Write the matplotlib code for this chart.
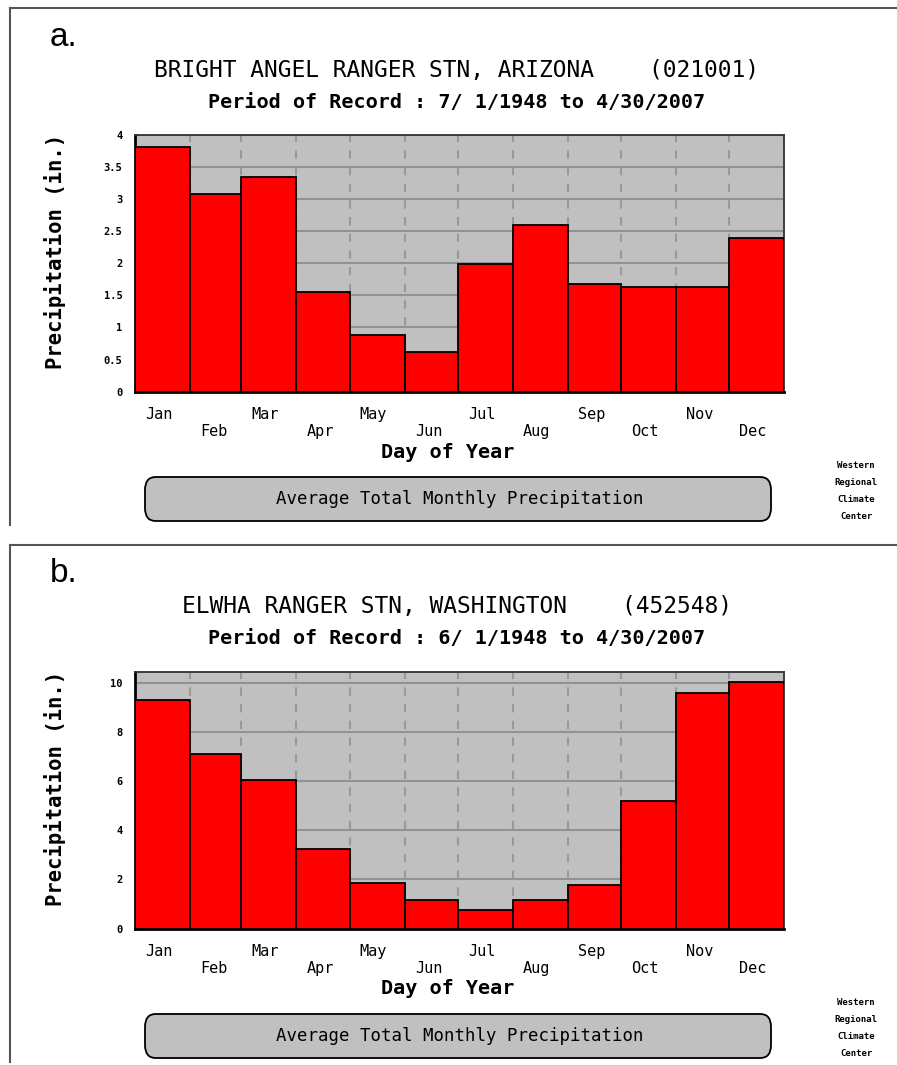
import matplotlib.pyplot as plt
from matplotlib.patches import FancyBboxPatch
from matplotlib.lines import Line2D

months = ["Jan", "Feb", "Mar", "Apr", "May", "Jun",
          "Jul", "Aug", "Sep", "Oct", "Nov", "Dec"]
month_days = [31, 29, 31, 30, 31, 30, 31, 31, 30, 31, 30, 31]

# Bright Angel Ranger Stn, Arizona (inches)
precip_a = [3.81, 3.08, 3.35, 1.55, 0.88, 0.61, 1.99, 2.59, 1.68, 1.63, 1.63, 2.39]
# Elwha Ranger Stn, Washington (inches)
precip_b = [9.3, 7.1, 6.05, 3.24, 1.84, 1.18, 0.75, 1.16, 1.77, 5.2, 9.59, 10.04]

titles = ["BRIGHT ANGEL RANGER STN, ARIZONA    (021001)",
          "ELWHA RANGER STN, WASHINGTON    (452548)"]
periods = ["Period of Record : 7/ 1/1948 to 4/30/2007",
           "Period of Record : 6/ 1/1948 to 4/30/2007"]
letters = ["a.", "b."]
yticks_a = [0, 0.5, 1, 1.5, 2, 2.5, 3, 3.5, 4]
yticklabels_a = ["0", "0.5", "1", "1.5", "2", "2.5", "3", "3.5", "4"]
yticks_b = [0, 2, 4, 6, 8, 10]
yticklabels_b = ["0", "2", "4", "6", "8", "10"]
ymax = [4, 10.45]

W, H = 897, 1065
MONO = "DejaVu Sans Mono"
fig = plt.figure(figsize=(W / 100, H / 100), dpi=100)


def fx(px):
    return px / W


def fy(py):
    return 1 - py / H


starts = [sum(month_days[:i]) for i in range(12)]
total = sum(month_days)


def draw_panel(off, values, title, period, letter, yticks, ylabels, top):
    # panel frame (top and left edges)
    fig.add_artist(Line2D([fx(10), fx(897)], [fy(8 + off), fy(8 + off)],
                          color="#555555", lw=1.5))
    fig.add_artist(Line2D([fx(10), fx(10)], [fy(8 + off), fy(525 + off)],
                          color="#555555", lw=1.5))
    fig.text(fx(50), fy(37 + off), letter, fontsize=24, family="Liberation Sans",
             va="center", ha="left")
    fig.text(fx(457), fy(70 + off), title, fontsize=16.5, family=MONO,
             ha="center", va="center")
    fig.text(fx(457), fy(102 + off), period, fontsize=14.5, family=MONO,
             weight="bold", ha="center", va="center")

    ax = fig.add_axes([fx(135), fy(391.6 + off), fx(649), (391.6 - 135) / H])
    ax.set_facecolor("#c0c0c0")
    ax.bar(starts, values, width=month_days, align="edge", color="#ff0000",
           edgecolor="black", linewidth=1.3, zorder=3)
    ax.set_xlim(0, total)
    ax.set_ylim(0, top)
    for y in yticks:
        ax.axhline(y, color="#929292", lw=1.5, zorder=1)
    for s in starts[1:]:
        ax.axvline(s, color="#999999", lw=1.5, ls=(0, (4, 4)), zorder=1)
    ax.set_yticks(yticks)
    ax.set_yticklabels(ylabels, family=MONO, fontsize=7.5, weight="bold")
    mids = [s + 13.5 for s in starts]
    ax.set_xticks(mids)
    ax.set_xticklabels([m if i % 2 == 0 else "\n" + m for i, m in enumerate(months)],
                       family=MONO, fontsize=11, linespacing=1.2)
    ax.tick_params(axis="both", length=0)
    ax.tick_params(axis="x", pad=11)
    ax.tick_params(axis="y", pad=9)
    for side in ["left", "bottom"]:
        ax.spines[side].set_color("black")
        ax.spines[side].set_linewidth(2)
    for side in ["top", "right"]:
        ax.spines[side].set_color("#333333")
        ax.spines[side].set_linewidth(1.3)
    ax.set_ylabel("Precipitation (in.)", family=MONO, weight="bold",
                  fontsize=14.8)
    ax.yaxis.set_label_coords((66 - 135) / 649, 0.545)

    fig.text(fx(448), fy(452 + off), "Day of Year", family=MONO, weight="bold",
             fontsize=14.5, ha="center", va="center")
    box = FancyBboxPatch((fx(145), fy(521 + off)), fx(626), (521 - 477) / H,
                         boxstyle="round,pad=0,rounding_size=0.012",
                         transform=fig.transFigure, facecolor="#c0c0c0",
                         edgecolor="black", lw=1.3)
    fig.add_artist(box)
    fig.text(fx(460), fy(499 + off), "Average Total Monthly Precipitation",
             family=MONO, fontsize=12.5, ha="center", va="center")
    fig.text(fx(856), fy(491 + off), "Western\nRegional\nClimate\nCenter",
             family=MONO, fontsize=6.5, weight="bold", ha="center", va="center",
             linespacing=2.15)


draw_panel(0, precip_a, titles[0], periods[0], letters[0],
           yticks_a, yticklabels_a, ymax[0])
draw_panel(537, precip_b, titles[1], periods[1], letters[1],
           yticks_b, yticklabels_b, ymax[1])

fig.savefig("out.png", dpi=100, facecolor="white")
